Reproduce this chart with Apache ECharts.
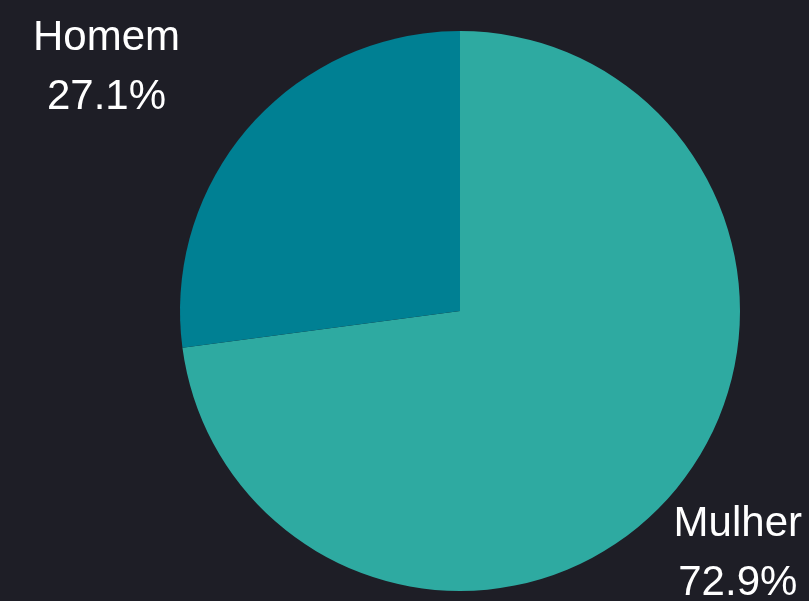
<!DOCTYPE html>
<html>
<head>
<meta charset="utf-8">
<script src="https://cdn.jsdelivr.net/npm/echarts@6/dist/echarts.min.js"></script>
<style>
html,body{margin:0;padding:0;background:#1e1e26;}
#chart{width:809px;height:601px;}
</style>
</head>
<body>
<div id="chart"></div>
<script>
const categories = ['Mulher', 'Homem'];
const values = [72.9, 27.1];
const colors = ['#2eaaa1', '#008093'];

const chart = echarts.init(document.getElementById('chart'), null, {renderer: 'canvas'});
chart.setOption({
  backgroundColor: '#1e1e26',
  animation: false,
  series: [{
    type: 'pie',
    left: 26, right: 0, top: 0, bottom: 0,
    center: [434, 311],
    radius: 280,
    startAngle: 90,
    clockwise: true,
    percentPrecision: 1,
    avoidLabelOverlap: false,
    color: colors,
    label: {
      show: true,
      position: 'outside',
      alignTo: 'edge',
      edgeDistance: 7,
      formatter: '{a|{b}}\n{a|{d}%}',
      rich: {
        a: {
          align: 'center',
          fontSize: 42,
          lineHeight: 59,
          color: '#ffffff',
          fontFamily: 'Liberation Sans, Arial, sans-serif'
        }
      }
    },
    labelLine: { show: false, length: 89, length2: -80 },
    emphasis: { disabled: true },
    data: categories.map((c, i) => ({ name: c, value: values[i] }))
  }]
});
</script>
</body>
</html>
